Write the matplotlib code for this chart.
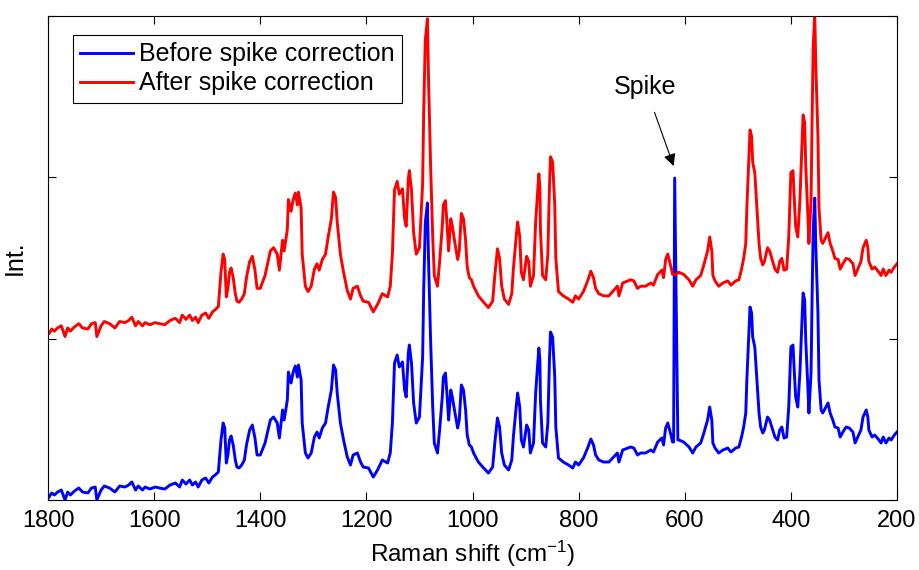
"""Raman spectrum before/after spike removal, stacked for comparison."""

import numpy as np
import matplotlib

matplotlib.use("Agg")
import matplotlib.pyplot as plt

plt.rcParams["font.family"] = ["Liberation Sans", "DejaVu Sans"]
plt.rcParams["mathtext.default"] = "regular"

# Raman shift (cm^-1), high -> low
shift = [
    1798, 1793, 1788, 1782, 1775, 1768, 1763, 1758, 1750, 1742, 1735, 1725, 1718, 1711,
    1708, 1700, 1694, 1684, 1674, 1665, 1655, 1648, 1642, 1635, 1630, 1622, 1617, 1608,
    1598, 1590, 1580, 1570, 1560, 1552, 1547, 1540, 1533, 1528, 1522, 1517, 1510, 1503,
    1497, 1490, 1485, 1479, 1474, 1470, 1467, 1464, 1461, 1458, 1455, 1451, 1447, 1444,
    1440, 1435, 1430, 1426, 1420, 1415, 1410, 1406, 1400, 1391, 1381, 1375, 1368, 1364,
    1358, 1355, 1349, 1347, 1342, 1338, 1334, 1330, 1328, 1323, 1321, 1315, 1310, 1304,
    1298, 1293, 1289, 1283, 1277, 1272, 1266, 1262, 1258, 1255, 1249, 1243, 1236, 1230,
    1225, 1217, 1211, 1206, 1196, 1187, 1179, 1170, 1160, 1155, 1151, 1147, 1142, 1138,
    1132, 1128, 1125, 1121, 1119, 1115, 1111, 1106, 1100, 1094, 1092, 1089, 1085, 1083,
    1079, 1075, 1072, 1066, 1062, 1057, 1055, 1051, 1047, 1045, 1041, 1038, 1034, 1028,
    1025, 1021, 1017, 1013, 1010, 1006, 1002, 998, 989, 979, 970, 962, 958, 953,
    949, 945, 940, 932, 926, 923, 917, 915, 911, 908, 904, 898, 894, 891,
    885, 881, 875, 873, 872, 868, 862, 858, 855, 853, 849, 845, 843, 838,
    829, 819, 811, 806, 800, 791, 783, 777, 772, 768, 762, 753, 743, 734,
    727, 724, 717, 707, 702, 696, 689, 683, 674, 664, 659, 651, 643, 640,
    636, 632, 626, 623, 621, 619, 616, 613, 611, 602, 592, 585, 579, 570,
    564, 557, 553, 549, 547, 543, 536, 528, 519, 513, 504, 498, 493, 489,
    485, 483, 479, 477, 474, 472, 468, 464, 460, 457, 453, 450, 444, 440,
    436, 430, 425, 421, 417, 413, 408, 404, 400, 396, 394, 391, 387, 383,
    379, 377, 374, 372, 368, 366, 362, 360, 358, 355, 353, 349, 347, 343,
    340, 334, 330, 326, 321, 317, 311, 307, 302, 296, 290, 283, 279, 274,
    268, 264, 258, 255, 253, 247, 242, 234, 230, 226, 221, 215, 211, 205,
    200,
]

# raw intensity (a.u.), spike included
before = [
    3, 7, 5, 8, 10, 0, 8, 5, 9, 12, 8, 7, 12, 13,
    0, 10, 14, 12, 8, 14, 13, 15, 18, 10, 14, 10, 13, 11,
    13, 12, 11, 15, 17, 13, 20, 16, 20, 15, 18, 13, 20, 22,
    17, 23, 25, 28, 60, 77, 72, 37, 45, 60, 64, 55, 40, 33,
    32, 35, 40, 55, 70, 75, 62, 45, 45, 57, 80, 83, 77, 62,
    90, 80, 100, 128, 117, 128, 134, 123, 135, 120, 77, 47, 42, 47,
    63, 68, 62, 72, 77, 93, 110, 135, 130, 107, 77, 60, 43, 35,
    45, 47, 38, 33, 32, 23, 30, 40, 37, 47, 77, 137, 145, 133,
    138, 110, 103, 147, 155, 137, 97, 77, 83, 143, 210, 277, 297, 243,
    160, 93, 57, 47, 70, 103, 123, 127, 97, 80, 110, 103, 90, 72,
    80, 115, 110, 90, 65, 55, 53, 47, 38, 32, 27, 33, 57, 82,
    73, 47, 35, 30, 40, 63, 97, 107, 93, 60, 53, 75, 70, 47,
    57, 107, 152, 140, 100, 57, 53, 77, 140, 168, 163, 123, 73, 42,
    38, 35, 32, 38, 35, 42, 52, 61, 55, 45, 40, 38, 38, 43,
    47, 38, 50, 52, 53, 52, 45, 47, 47, 50, 48, 58, 62, 55,
    72, 77, 65, 58, 58, 322, 190, 60, 60, 58, 53, 47, 53, 57,
    67, 80, 93, 80, 57, 52, 47, 50, 52, 48, 52, 53, 63, 73,
    87, 120, 170, 193, 187, 163, 153, 120, 87, 73, 67, 70, 83, 80,
    73, 63, 60, 70, 73, 62, 63, 93, 153, 155, 133, 103, 93, 127,
    180, 207, 200, 160, 113, 87, 127, 203, 270, 302, 253, 187, 120, 90,
    87, 93, 97, 87, 80, 73, 72, 63, 68, 73, 72, 68, 57, 63,
    70, 83, 90, 83, 70, 63, 65, 60, 57, 63, 57, 62, 60, 65,
    68,
]

# values that replace the cosmic-ray spike after correction
spike_shift = [619, 616]
spike_fixed = [58, 58]

# the corrected trace is rescaled and lifted above the raw one
stack_gain = 1.07
stack_offset = 163.5

shift = np.array(shift)
before = np.array(before, dtype=float)
after = before.copy()
for s, v in zip(spike_shift, spike_fixed):
    after[shift == s] = v

fig = plt.figure(figsize=(9.2, 5.7), dpi=100)
ax = fig.add_axes([0.0522, 0.1228, 0.9228, 0.8491])

ax.plot(shift, before, color="#0000ff", lw=2.1, label="Before spike correction")
ax.plot(shift, after * stack_gain + stack_offset, color="#ff0000", lw=2.1,
        label="After spike correction")

ax.set_xlim(1800, 200)
ax.set_ylim(0, 484)
ax.set_xticks(np.arange(1800, 199, -200))
ax.set_yticks(np.linspace(0, 484, 4))
ax.set_yticklabels([])
ax.tick_params(direction="in", length=6, width=0.8, top=True, right=True,
               labelsize=17, pad=7)
for sp in ax.spines.values():
    sp.set_linewidth(0.8)

ax.set_xlabel("Raman shift (cm$^{-1}$)", fontsize=17.5, labelpad=5)
ax.set_ylabel("Int.", fontsize=18, labelpad=8)

ax.annotate("Spike", xy=(621, 334), xytext=(674, 413), fontsize=18,
            ha="center", va="center",
            arrowprops=dict(arrowstyle="-|>", color="black", lw=0.8,
                            mutation_scale=18, shrinkA=8, shrinkB=0))

leg = ax.legend(loc="upper left", bbox_to_anchor=(0.0294, 0.961), borderaxespad=0,
                fontsize=18, handlelength=2.1, handletextpad=0.25,
                labelspacing=0.2, borderpad=0.3, fancybox=False, framealpha=1)
leg.get_frame().set_edgecolor("black")
leg.get_frame().set_linewidth(0.8)
for line in leg.get_lines():
    line.set_linewidth(2.1)

fig.savefig("out.png", dpi=100)
